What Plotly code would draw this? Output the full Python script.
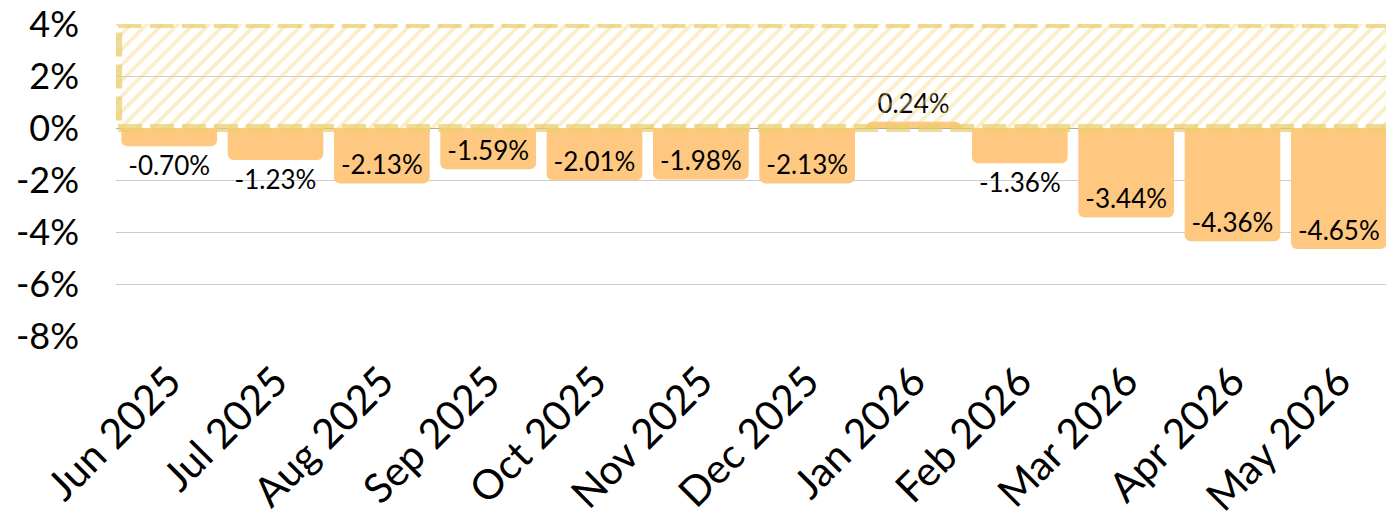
import plotly.graph_objects as go

months = ["Jun 2025", "Jul 2025", "Aug 2025", "Sep 2025", "Oct 2025", "Nov 2025",
          "Dec 2025", "Jan 2026", "Feb 2026", "Mar 2026", "Apr 2026", "May 2026"]
values = [-0.70, -1.23, -2.13, -1.59, -2.01, -1.98, -2.13, 0.24, -1.36, -3.44, -4.36, -4.65]
band_low = 0
band_high = 4
y_ticks = [4, 2, 0, -2, -4, -6, -8]
y_tick_text = [f"{t}%" for t in y_ticks]

labels = [f"{v:.2f}%" for v in values]
positions = ["inside" if abs(v) >= 1.5 else "outside" for v in values]

FONT = "Lato, 'Open Sans', sans-serif"
LABEL_FONT = dict(size=26, color="black", family=FONT)

fig = go.Figure()
fig.add_trace(go.Bar(
    x=months, y=values, text=labels, textposition=positions,
    insidetextanchor="end",
    textfont=LABEL_FONT, outsidetextfont=LABEL_FONT, insidetextfont=LABEL_FONT,
    marker=dict(color="#FFC881", cornerradius=6, line=dict(width=0)),
    cliponaxis=False, showlegend=False, hoverinfo="skip",
))
n = len(months)
fig.add_trace(go.Scatter(
    x=[-0.5, n - 0.5, n - 0.5, -0.5, -0.5],
    y=[band_low, band_low, band_high, band_high, band_low],
    xaxis="x2", mode="none", fill="toself",
    fillcolor="rgba(0,0,0,0)",
    fillpattern=dict(shape="/", fgcolor="rgba(238,210,110,0.75)", bgcolor="rgba(255,255,255,0)",
                     size=11, solidity=0.34),
    cliponaxis=False, showlegend=False, hoverinfo="skip",
))
fig.add_shape(type="rect", xref="x2", yref="y",
              x0=-0.48, x1=n - 0.52, y0=band_low, y1=band_high,
              line=dict(color="rgba(234,205,110,0.72)", width=8, dash="24px,8px"),
              fillcolor="rgba(0,0,0,0)", layer="above")

fig.update_layout(
    width=1386, height=511,
    margin=dict(l=108, r=2, t=16, b=183, autoexpand=False),
    paper_bgcolor="white", plot_bgcolor="white",
    bargap=0.1,
    font=dict(family=FONT, color="black"),
    xaxis=dict(type="category", tickangle=-45, tickfont=dict(size=41, family=FONT),
               showgrid=False, zeroline=False, showline=False, ticks="", automargin=False,
               ticklabeloverflow="allow", ticklabelstandoff=12),
    xaxis2=dict(overlaying="x", range=[-0.5, n - 0.5], visible=False),
    yaxis=dict(range=[-8, 4], tickvals=y_ticks, ticktext=y_tick_text,
               tickfont=dict(size=36, family=FONT), showgrid=True, gridcolor="#cccccc",
               gridwidth=1, zeroline=True, zerolinecolor="#aaaaaa", zerolinewidth=1,
               showline=False, ticks="", ticklabelstandoff=36, automargin=False,
               ticklabeloverflow="allow"),
)

fig.write_html("out.html")
